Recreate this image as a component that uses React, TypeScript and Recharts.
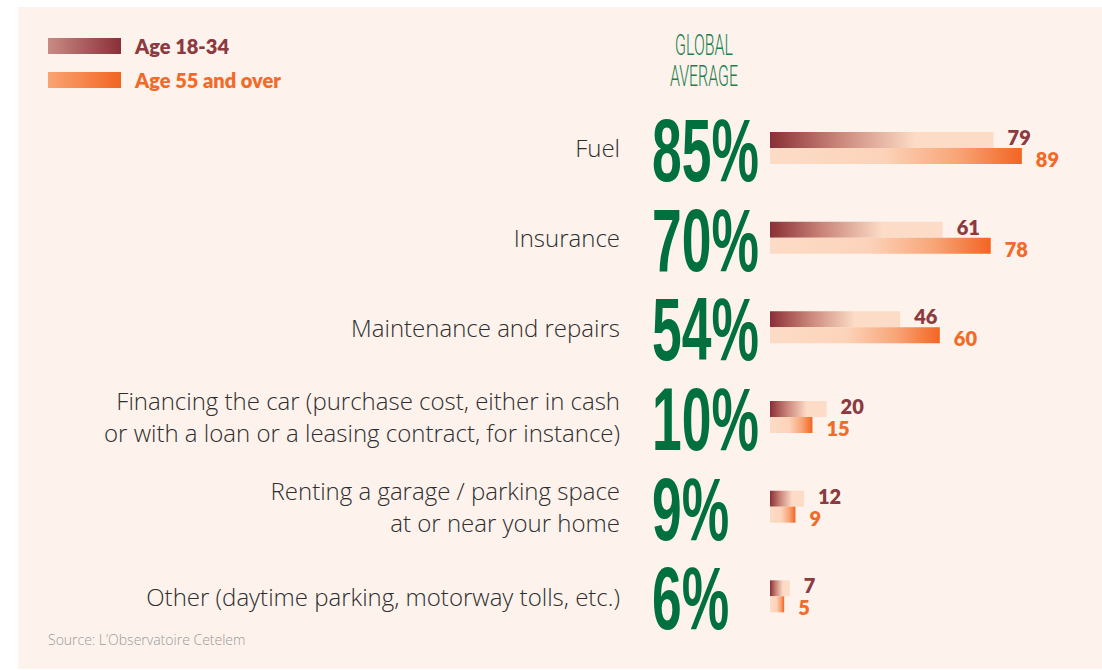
import { BarChart, Bar, XAxis, YAxis, LabelList } from 'recharts';

const categories = [
  'Fuel',
  'Insurance',
  'Maintenance and repairs',
  'Financing the car (purchase cost, either in cash|or with a loan or a leasing contract, for instance)',
  'Renting a garage / parking space|at or near your home',
  'Other (daytime parking, motorway tolls, etc.)',
];
const globalAverage = [85, 70, 54, 10, 9, 6];
const age18to34 = [79, 61, 46, 20, 12, 7];
const age55plus = [89, 78, 60, 15, 9, 5];
const seriesNames = ['Age 18-34', 'Age 55 and over'];

const data = categories.map((name, i) => ({
  name,
  avg: globalAverage[i],
  young: age18to34[i],
  old: age55plus[i],
}));

const MAROON = '#8B3A3F';
const ORANGE = '#F26A28';
const GREEN = '#00703F';
const LIGHT = '#FCDCC6';

const CategoryTick = (props: any) => {
  const { x, y, payload } = props;
  const row = data.find((d) => d.name === payload.value);
  const lines = String(payload.value).split('|');
  const lineH = 32;
  const start = y - ((lines.length - 1) * lineH) / 2;
  return (
    <g>
      {lines.map((line, i) => (
        <text
          key={i}
          x={x - 150}
          y={start + i * lineH}
          textAnchor="end"
          dominantBaseline="central"
          fontFamily="'Open Sans', sans-serif"
          fontWeight={300}
          fontSize={24}
          fill="#2e2e2e"
        >
          {line}
        </text>
      ))}
      <text
        transform={`translate(${x - 118},${y + 33}) scale(0.6,1)`}
        fontFamily="'Liberation Sans', Arial, sans-serif"
        fontWeight={700}
        fontSize={89}
        fill={GREEN}
      >
        {row ? `${row.avg}%` : ''}
      </text>
    </g>
  );
};

const makeValueLabel = (color: string, dy: number) => (props: any) => {
  const { x, y, width, height, value } = props;
  return (
    <text
      x={x + width + 14}
      y={y + height / 2 + dy}
      dominantBaseline="central"
      fontFamily="Lato, sans-serif"
      fontWeight={800}
      fontSize={20}
      fill={color}
    >
      {value}
    </text>
  );
};

const legendSwatches = [
  'linear-gradient(to right, #C98B84, #8A2F38)',
  'linear-gradient(to right, #F9A474, #F26522)',
];
const legendColors = [MAROON, ORANGE];

export default function App() {
  return (
    <div style={{ position: 'absolute', left: 0, top: 0, width: 1102, height: 670, background: '#fff' }}>
      <div
        style={{ position: 'absolute', left: 18, top: 7, width: 1084, height: 662, background: '#FDF2EC' }}
      />
      <div
        style={{
          position: 'absolute',
          left: 48,
          top: 37,
          fontFamily: 'Lato, sans-serif',
          fontWeight: 800,
          fontSize: 20,
        }}
      >
        {seriesNames.map((s, i) => (
          <div key={s} style={{ display: 'flex', alignItems: 'center', height: 17, marginBottom: 17 }}>
            <div style={{ width: 73, height: 16, background: legendSwatches[i], marginRight: 14 }} />
            <span style={{ color: legendColors[i] }}>{s}</span>
          </div>
        ))}
      </div>
      <div
        style={{
          position: 'absolute',
          left: 704,
          top: 30,
          transform: 'translateX(-50%) scaleX(0.55)',
          color: '#1E7F4E',
          fontFamily: 'Roboto, sans-serif',
          fontWeight: 300,
          fontSize: 29,
          lineHeight: '31px',
          textAlign: 'center',
          whiteSpace: 'nowrap',
        }}
      >
        GLOBAL
        <br />
        AVERAGE
      </div>
      <div
        style={{
          position: 'absolute',
          left: 48,
          top: 630,
          color: '#9a9a9a',
          fontFamily: "'Open Sans', sans-serif",
          fontWeight: 300,
          fontSize: 14,
        }}
      >
        Source: L’Observatoire Cetelem
      </div>
      <div style={{ position: 'absolute', left: 0, top: 0 }}>
        <BarChart
          width={1102}
          height={670}
          data={data}
          layout="vertical"
          margin={{ top: 103, right: 49, bottom: 29, left: 0 }}
          barGap={0}
          barSize={16}
        >
          <defs>
            <linearGradient id="gradYoung" x1="0" y1="0" x2="1" y2="0">
              <stop offset="0%" stopColor="#8A2F36" />
              <stop offset="30%" stopColor="#C98478" />
              <stop offset="65%" stopColor={LIGHT} />
              <stop offset="100%" stopColor={LIGHT} />
            </linearGradient>
            <linearGradient id="gradOld" x1="0" y1="0" x2="1" y2="0">
              <stop offset="0%" stopColor={LIGHT} />
              <stop offset="45%" stopColor="#FCD3BA" />
              <stop offset="75%" stopColor="#F8A476" />
              <stop offset="100%" stopColor="#F26522" />
            </linearGradient>
          </defs>
          <XAxis type="number" domain={[0, 100]} hide />
          <YAxis
            type="category"
            dataKey="name"
            width={770}
            axisLine={false}
            tickLine={false}
            tickSize={0}
            tickMargin={0}
            interval={0}
            tick={<CategoryTick />}
          />
          <Bar dataKey="young" name={seriesNames[0]} fill="url(#gradYoung)" isAnimationActive={false}>
            <LabelList dataKey="young" content={makeValueLabel(MAROON, -3)} />
          </Bar>
          <Bar dataKey="old" name={seriesNames[1]} fill="url(#gradOld)" isAnimationActive={false}>
            <LabelList dataKey="old" content={makeValueLabel(ORANGE, 3)} />
          </Bar>
        </BarChart>
      </div>
    </div>
  );
}
